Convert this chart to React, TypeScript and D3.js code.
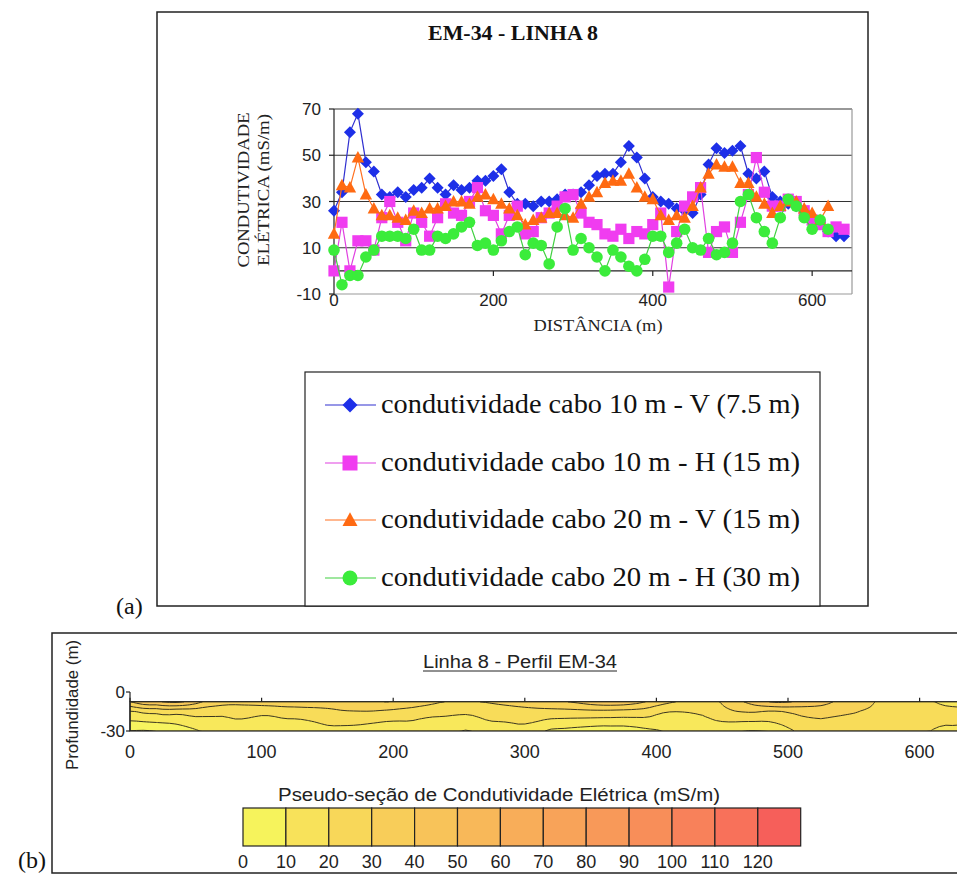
import React from 'react';
import * as d3 from 'd3';

const DIST = [0,10,20,30,40,50,60,70,80,90,100,110,120,130,140,150,160,170,180,190,200,210,220,230,240,250,260,270,280,290,300,310,320,330,340,350,360,370,380,390,400,410,420,430,440,450,460,470,480,490,500,510,520,530,540,550,560,570,580,590,600,610,620,630,640];

const blueV75 = [26,34,60,68,47,43,33,32,34,32,35,36,40,36,33,37,35,36,39,39,41,44,34,29,29,28,30,30,31,33,33,34,37,41,42,42,47,54,49,40,32,30,29,27,26,25,33,46,53,51,52,54,42,40,43,32,30,29,28,26,23,21,17,15,15];
const magentaH15 = [0,21,0,13,13,9,23,30,21,13,25,21,15,23,29,25,24,30,36,26,24,16,24,28,16,17,23,25,28,32,33,25,21,20,16,15,18,14,17,16,20,25,-7,17,28,32,36,8,17,19,8,21,33,49,34,28,28,31,30,26,22,20,17,19,18];
const orangeV15 = [16,37,36,49,33,27,24,24,23,22,26,25,27,27,28,30,30,29,32,33,31,29,27,24,20,22,23,25,25,24,23,29,32,34,38,39,39,42,36,32,31,24,22,24,23,28,36,42,46,45,45,38,38,32,29,25,28,30,30,27,25,22,28];
const greenH30 = [9,-6,-2,-2,6,9,15,15,15,14,18,9,9,15,14,16,19,21,11,12,9,13,17,19,7,12,11,3,19,27,9,14,10,6,0,9,6,2,0,5,15,15,8,12,18,10,9,14,7,8,12,30,33,23,17,12,23,31,28,23,18,22,18];

const seriesNames = [
  'condutividade cabo 10 m - V (7.5 m)',
  'condutividade cabo 10 m - H (15 m)',
  'condutividade cabo 20 m - V (15 m)',
  'condutividade cabo 20 m - H (30 m)',
];

const yTicks = [-10, 10, 30, 50, 70];
const xTicks = [0, 200, 400, 600];
const gridLines = [10, 30, 50, 70];

const sectionXTicks = [0, 100, 200, 300, 400, 500, 600];
const sectionYTicks = [0, -30];
const colorLevels = [0,10,20,30,40,50,60,70,80,90,100,110,120];
const colorList = ['#f6f35c','#f8e25a','#f8d759','#f8cd59','#f8c359','#f8b859','#f8ad59','#f8a359','#f89959','#f88e59','#f8815a','#f8715a','#f65f5a'];

const SERIF = '"Liberation Serif", "Times New Roman", serif';
const SANS = '"Liberation Sans", Arial, sans-serif';

type Series = { name: string; values: number[]; color: string; line: string; shape: string };

const series: Series[] = [
  { name: seriesNames[0], values: blueV75, color: '#1d2fe8', line: '#3030d0', shape: 'diamond' },
  { name: seriesNames[1], values: magentaH15, color: '#f03cf0', line: '#e040e0', shape: 'square' },
  { name: seriesNames[2], values: orangeV15, color: '#ff6a12', line: '#ff7020', shape: 'triangle' },
  { name: seriesNames[3], values: greenH30, color: '#3bec3b', line: '#40d040', shape: 'circle' },
];

const markerSize: Record<string, number> = { diamond: 6, square: 5.6, triangle: 6.2, circle: 5.8 };

function Marker({ shape, x, y, s, color }: { shape: string; x: number; y: number; s: number; color: string }) {
  if (shape === 'diamond') {
    return <path d={`M${x},${y - s}L${x + s},${y}L${x},${y + s}L${x - s},${y}Z`} fill={color} />;
  }
  if (shape === 'square') {
    return <rect x={x - s} y={y - s} width={2 * s} height={2 * s} fill={color} />;
  }
  if (shape === 'triangle') {
    return <path d={`M${x},${y - s * 1.05}L${x + s},${y + s * 0.8}L${x - s},${y + s * 0.8}Z`} fill={color} />;
  }
  return <circle cx={x} cy={y} r={s} fill={color} />;
}

function interpAt(arr: number[], xm: number) {
  const n = arr.length;
  const pos = xm / 10;
  const i = Math.max(0, Math.min(n - 1, Math.floor(pos)));
  const j = Math.min(n - 1, i + 1);
  const t = Math.max(0, Math.min(1, pos - i));
  return arr[i] * (1 - t) + arr[j] * t;
}

export default function App() {
  const x = d3.scaleLinear().domain([0, 650]).range([334, 852]);
  const y = d3.scaleLinear().domain([-10, 70]).range([294, 109]);
  const line = d3.line<number>();

  const sx = d3.scaleLinear().domain([0, 100]).range([130, 261.6]);
  const sy = d3.scaleLinear().domain([0, -30]).range([692, 731]);
  const color = d3.scaleThreshold<number, string>().domain(colorLevels.slice(1)).range(colorList);

  const step = 5;
  const nx = 129;
  const dTop = 7.5, dBot = 30, dStep = 0.5;
  const ny = Math.round((dBot - dTop) / dStep) + 1;
  const raw: number[] = new Array(nx * ny);
  for (let i = 0; i < nx; i++) {
    const xm = i * step;
    const v1 = interpAt(blueV75, xm);
    const v2 = (interpAt(orangeV15, xm) + interpAt(magentaH15, xm)) / 2;
    const v3 = interpAt(greenH30, xm);
    for (let j = 0; j < ny; j++) {
      const d = dTop + j * dStep;
      let v;
      if (d <= 15) {
        const t = (d - 7.5) / 7.5;
        v = v1 * (1 - t) + v2 * t;
      } else {
        const t = (d - 15) / 15;
        v = v2 * (1 - t) + v3 * t;
      }
      raw[j * nx + i] = v;
    }
  }
  const vals: number[] = new Array(nx * ny);
  const R = 4;
  for (let j = 0; j < ny; j++) {
    for (let i = 0; i < nx; i++) {
      let s = 0, c = 0;
      for (let k = -R; k <= R; k++) {
        const ii = i + k;
        if (ii < 0 || ii >= nx) continue;
        s += raw[j * nx + ii];
        c++;
      }
      vals[j * nx + i] = s / c;
    }
  }
  const contours = d3.contours().size([nx, ny]).thresholds([-10, ...colorLevels])(vals);
  const proj = d3.geoTransform({
    point(px: number, py: number) {
      // @ts-ignore
      this.stream.point(sx((px - 0.5) * step), sy(-(dTop + (py - 0.5) * dStep)));
    },
  });
  const gpath = d3.geoPath(proj);

  const legendYs = [405, 463, 520, 578];
  const cbLeft = 243, cbW = 42.9, cbTop = 808, cbH = 38;
  const secX0 = sx(0), secY0 = sy(-dTop), secW = sx(640) - sx(0), secH = sy(-30) - sy(-dTop);

  return (
    <svg width={957} height={875} style={{ position: 'absolute', left: 0, top: 0, background: '#fff' }}>
      <rect x={0} y={0} width={957} height={875} fill="#fff" />
      <rect x={157} y={12} width={711} height={594} fill="none" stroke="#222" strokeWidth={1.5} />
      <text x={513} y={40} textAnchor="middle" fontFamily={SERIF} fontWeight="bold" fontSize={21} textLength={170} lengthAdjust="spacingAndGlyphs" fill="#111">EM-34 - LINHA 8</text>

      {gridLines.map((g) => (
        <line key={g} x1={334} x2={852} y1={y(g)} y2={y(g)} stroke="#333" strokeWidth={1.2} />
      ))}
      <line x1={852} x2={852} y1={y(70)} y2={y(-10)} stroke="#999" strokeWidth={1.2} />
      <line x1={334} x2={852} y1={y(-10)} y2={y(-10)} stroke="#999" strokeWidth={1.2} />
      <line x1={334} x2={852} y1={y(0)} y2={y(0)} stroke="#222" strokeWidth={1.2} />
      {xTicks.map((t) => (
        <line key={t} x1={x(t)} x2={x(t)} y1={y(0)} y2={y(0) + 5} stroke="#222" strokeWidth={1.2} />
      ))}
      <line x1={334} x2={334} y1={y(70)} y2={y(-10)} stroke="#222" strokeWidth={1.2} />
      {yTicks.map((t) => (
        <g key={t}>
          <line x1={329} x2={334} y1={y(t)} y2={y(t)} stroke="#222" strokeWidth={1.2} />
          <text x={321} y={y(t) + 6} textAnchor="end" fontFamily={SANS} fontSize={17} fill="#222">{t}</text>
        </g>
      ))}
      {xTicks.map((t) => (
        <text key={t} x={x(t)} y={306} textAnchor="middle" fontFamily={SANS} fontSize={17} fill="#222">{t}</text>
      ))}
      <text x={598} y={331} textAnchor="middle" fontFamily={SERIF} fontSize={16} textLength={129} lengthAdjust="spacingAndGlyphs" fill="#222">DISTÂNCIA (m)</text>
      <text transform="translate(249,190) rotate(-90)" textAnchor="middle" fontFamily={SERIF} fontSize={16} textLength={155} lengthAdjust="spacingAndGlyphs" fill="#222">CONDUTIVIDADE</text>
      <text transform="translate(269,190) rotate(-90)" textAnchor="middle" fontFamily={SERIF} fontSize={16} textLength={152} lengthAdjust="spacingAndGlyphs" fill="#222">ELÉTRICA (mS/m)</text>

      {series.map((s) => {
        const pts: [number, number][] = s.values.map((v, i) => [x(DIST[i]), y(v)]);
        return (
          <g key={s.name}>
            <path d={line(pts as any) || ''} fill="none" stroke={s.line} strokeWidth={1.2} />
            {pts.map((p, i) => (
              <Marker key={i} shape={s.shape} x={p[0]} y={p[1]} s={markerSize[s.shape]} color={s.color} />
            ))}
          </g>
        );
      })}

      <rect x={305} y={372} width={515} height={234} fill="#fff" stroke="#222" strokeWidth={1.2} />
      {series.map((s, i) => (
        <g key={s.name}>
          <line x1={325} x2={376} y1={legendYs[i]} y2={legendYs[i]} stroke={s.line} strokeWidth={1.2} />
          <Marker shape={s.shape} x={350} y={legendYs[i]} s={7.5} color={s.color} />
          <text x={381} y={legendYs[i] + 8} fontFamily={SERIF} fontSize={27} textLength={419} lengthAdjust="spacingAndGlyphs" fill="#111">{s.name}</text>
        </g>
      ))}
      <text x={116} y={614} fontFamily={SERIF} fontSize={24} fill="#111">(a)</text>

      <rect x={52} y={633} width={930} height={240} fill="none" stroke="#222" strokeWidth={1.5} />
      <text x={520} y={668} textAnchor="middle" fontFamily={SANS} fontSize={18} textLength={194} lengthAdjust="spacingAndGlyphs" fill="#222">Linha 8 - Perfil EM-34</text>
      <line x1={423} x2={617} y1={671} y2={671} stroke="#222" strokeWidth={1} />
      <text transform="translate(78,705) rotate(-90)" textAnchor="middle" fontFamily={SANS} fontSize={17} textLength={130} lengthAdjust="spacingAndGlyphs" fill="#222">Profundidade (m)</text>
      <text x={18} y={868} fontFamily={SERIF} fontSize={24} fill="#111">(b)</text>

      <defs>
        <clipPath id="secclip">
          <rect x={secX0} y={secY0} width={secW} height={secH} />
        </clipPath>
      </defs>
      <g clipPath="url(#secclip)">
        <rect x={secX0} y={secY0} width={secW} height={secH} fill="#fbf27a" />
        {contours.map((c, i) => (
          <path key={i} d={gpath(c as any) || ''} fill={color(Math.max(0, c.value))} fillOpacity={0.7} stroke="#3a3520" strokeWidth={1} />
        ))}
      </g>
      <rect x={secX0} y={secY0} width={secW} height={secH} fill="none" stroke="#222" strokeWidth={1.2} />
      <line x1={secX0} x2={secX0} y1={sy(0)} y2={sy(-30)} stroke="#222" strokeWidth={1.2} />
      {sectionYTicks.map((t) => (
        <g key={t}>
          <line x1={secX0 - 4} x2={secX0} y1={sy(t)} y2={sy(t)} stroke="#222" strokeWidth={1.2} />
          <text x={secX0 - 5} y={sy(t) + 6} textAnchor="end" fontFamily={SANS} fontSize={17} fill="#222">{t}</text>
        </g>
      ))}
      {sectionXTicks.map((t) => (
        <g key={t}>
          <line x1={sx(t)} x2={sx(t)} y1={secY0} y2={secY0 - 4} stroke="#222" strokeWidth={1.2} />
          <text x={sx(t)} y={758} textAnchor="middle" fontFamily={SANS} fontSize={18} fill="#222">{t}</text>
        </g>
      ))}

      <text x={499} y={801} textAnchor="middle" fontFamily={SANS} fontSize={18} textLength={442} lengthAdjust="spacingAndGlyphs" fill="#222">Pseudo-seção de Condutividade Elétrica (mS/m)</text>
      {colorLevels.map((lv, i) => (
        <g key={lv}>
          <rect x={cbLeft + i * cbW} y={cbTop} width={cbW} height={cbH} fill={colorList[i]} stroke="#222" strokeWidth={1.2} />
          <text x={cbLeft + i * cbW} y={868} textAnchor="middle" fontFamily={SANS} fontSize={18} fill="#222">{lv}</text>
        </g>
      ))}
    </svg>
  );
}
